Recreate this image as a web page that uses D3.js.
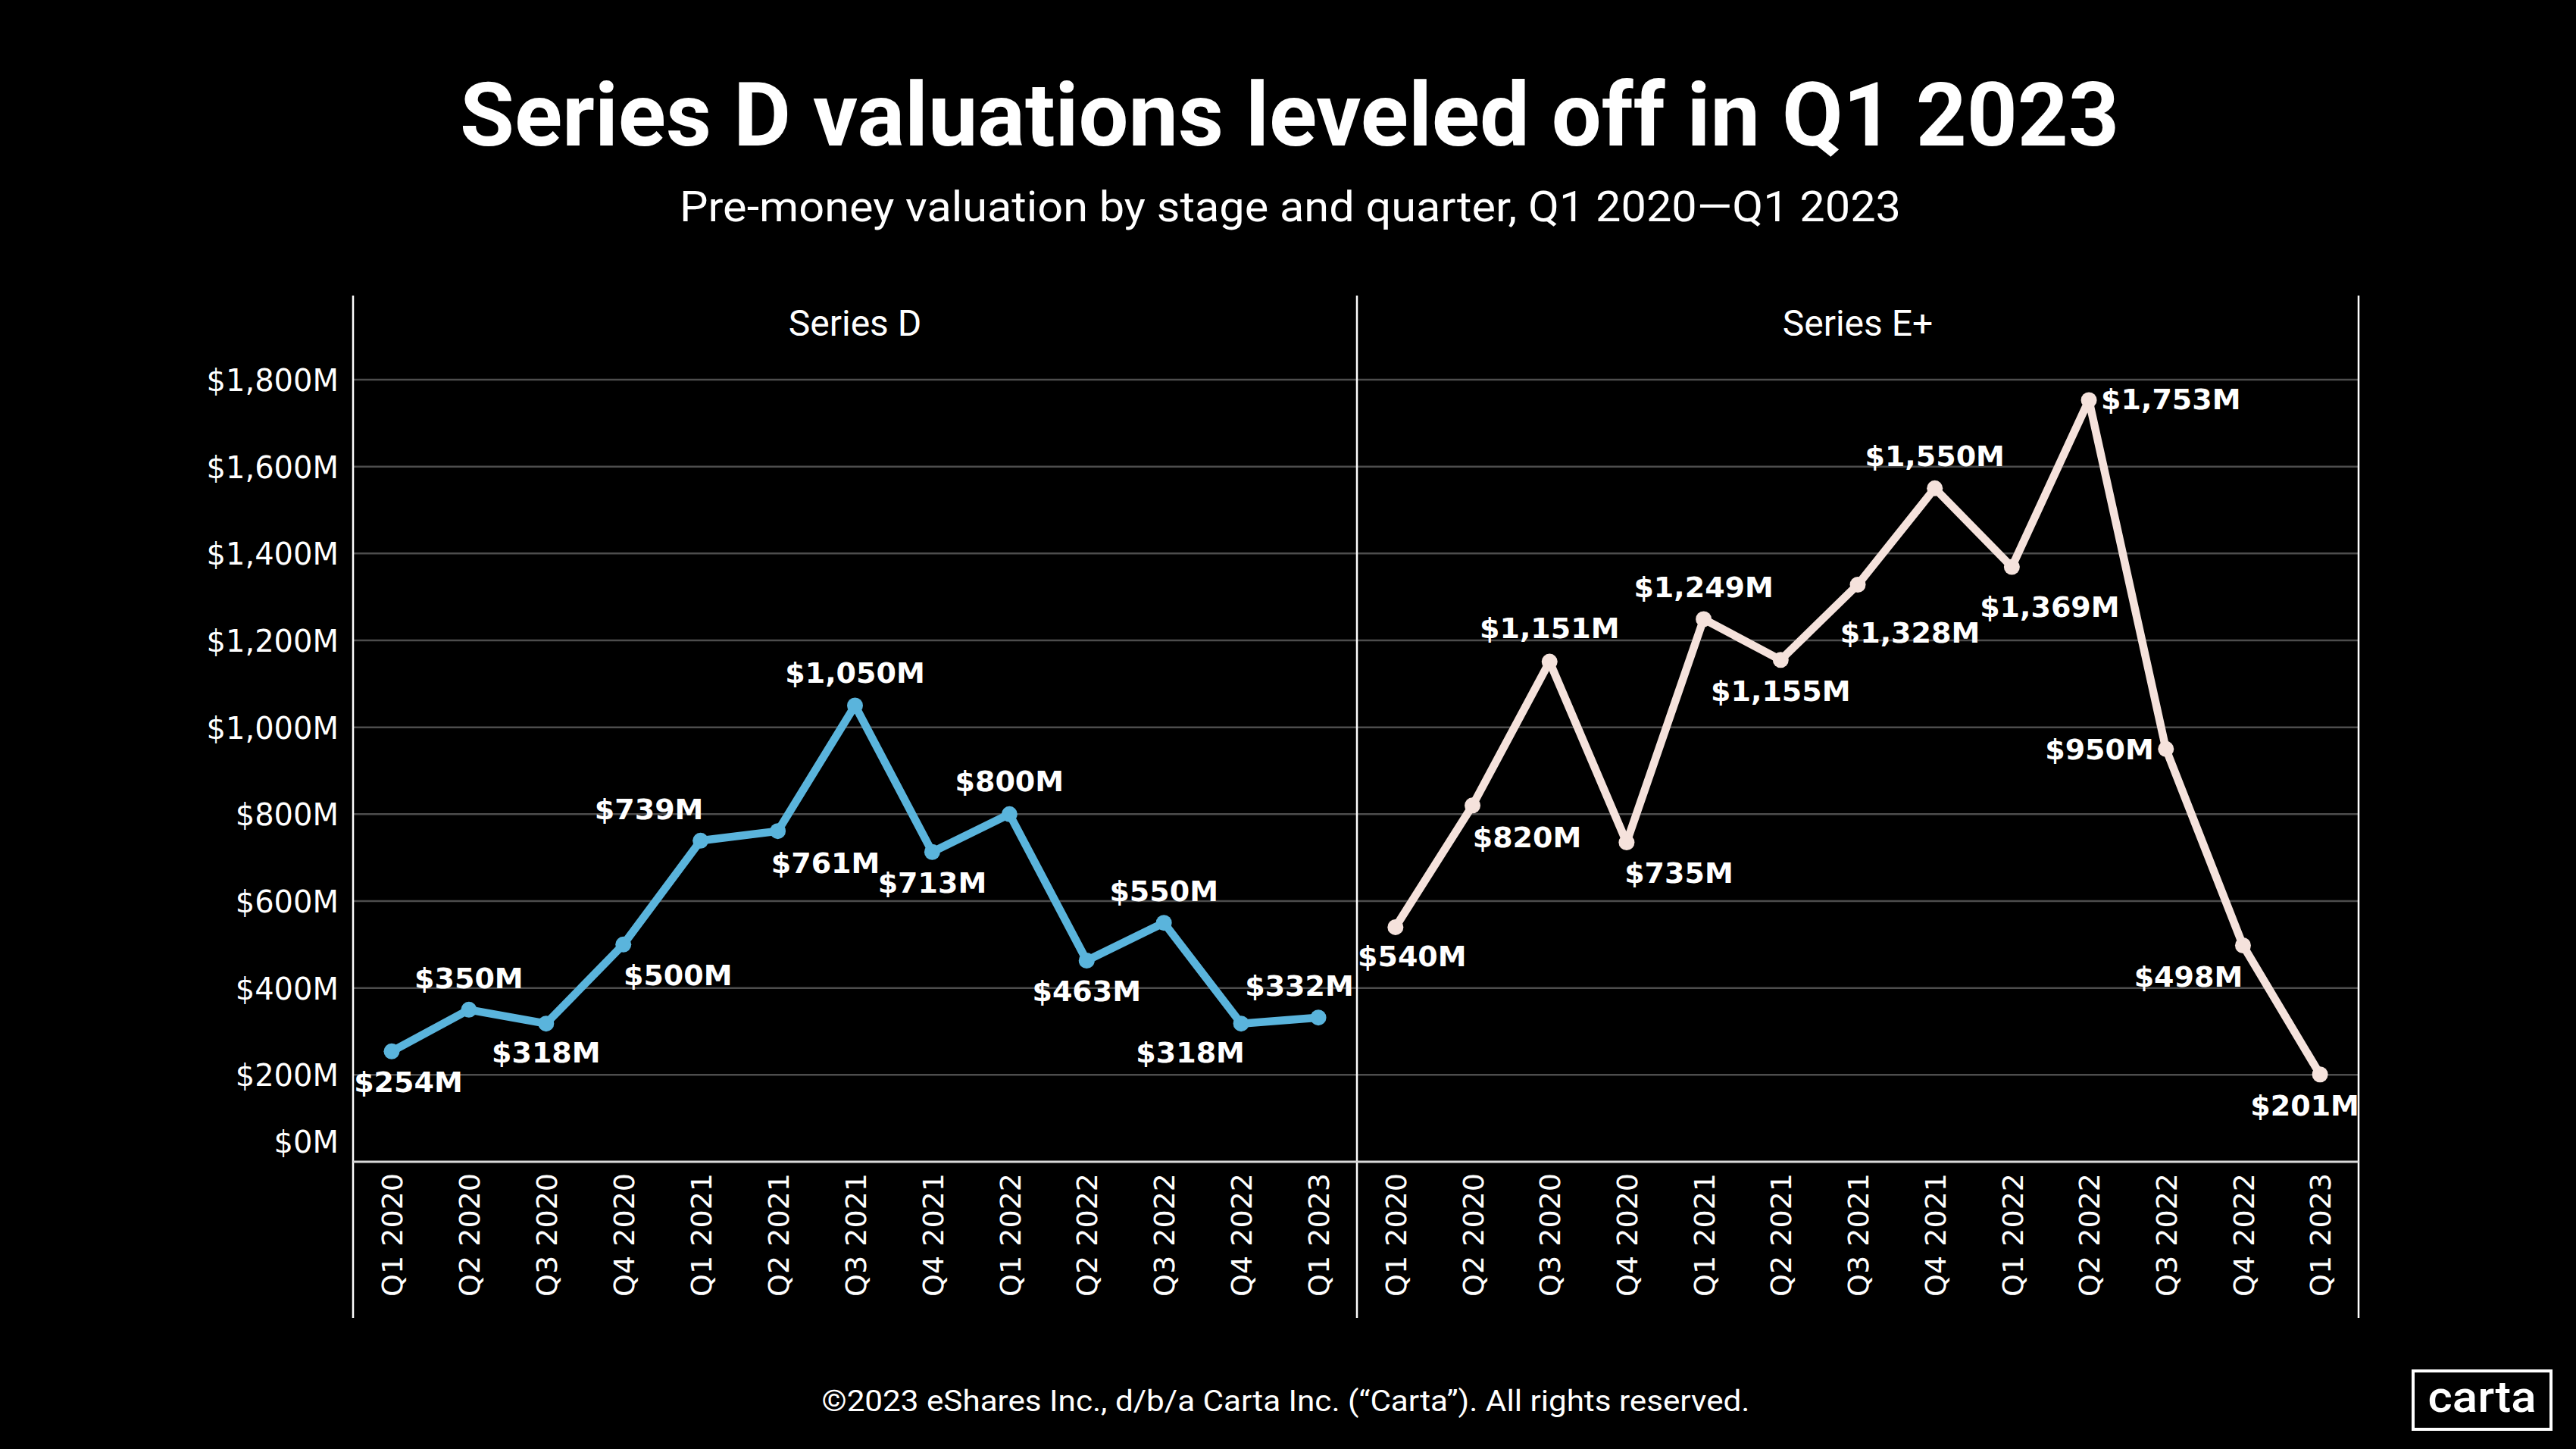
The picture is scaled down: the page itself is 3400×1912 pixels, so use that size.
<!DOCTYPE html>
<html>
<head>
<meta charset="utf-8">
<script src="https://cdn.jsdelivr.net/npm/d3@7"></script>
<style>
  html, body { margin: 0; padding: 0; background: #000; }
  svg { display: block; }
</style>
</head>
<body>
<script>
// ---------- data ----------
const quarters = ["Q1 2020","Q2 2020","Q3 2020","Q4 2020","Q1 2021","Q2 2021","Q3 2021","Q4 2021","Q1 2022","Q2 2022","Q3 2022","Q4 2022","Q1 2023"];
const panelNames = ["Series D", "Series E+"];
const seriesD = [254, 350, 318, 500, 739, 761, 1050, 713, 800, 463, 550, 318, 332];
const seriesE = [540, 820, 1151, 735, 1249, 1155, 1328, 1550, 1369, 1753, 950, 498, 201];
const yTicks = [0, 200, 400, 600, 800, 1000, 1200, 1400, 1600, 1800];

// label placement (offset from point, text anchor)
const labelPlaceD = [[22,40,"middle"],[0,-42,"middle"],[0,38,"middle"],[72,40,"middle"],[-68,-42,"middle"],[63,42,"middle"],[0,-44,"middle"],[0,40,"middle"],[0,-44,"middle"],[0,40,"middle"],[0,-42,"middle"],[-67,38,"middle"],[-25,-42,"middle"]];
const labelPlaceE = [[22,38,"middle"],[72,41,"middle"],[0,-45,"middle"],[69,40,"middle"],[0,-43,"middle"],[0,41,"middle"],[69,63,"middle"],[0,-43,"middle"],[50,52,"middle"],[16,-2,"start"],[-16,0,"end"],[-72,41,"middle"],[-20,41,"middle"]];

const W = 3400, H = 1912;
const svg = d3.select("body").append("svg").attr("width", W).attr("height", H);
svg.append("rect").attr("width", W).attr("height", H).attr("fill", "#000");

const headFont = "Roboto, 'Noto Sans', sans-serif";
const axisFont = "'DejaVu Sans', sans-serif";

// ---------- titles ----------
svg.append("text").attr("x", 1702).attr("y", 192).attr("text-anchor", "middle")
  .attr("font-family", headFont).attr("font-weight", 700).attr("font-size", 116)
  .attr("fill", "#fff").attr("textLength", 2190).attr("lengthAdjust", "spacingAndGlyphs")
  .text("Series D valuations leveled off in Q1 2023");
svg.append("text").attr("x", 1703).attr("y", 292).attr("text-anchor", "middle")
  .attr("font-family", headFont).attr("font-weight", 400).attr("font-size", 56)
  .attr("fill", "#fff").attr("textLength", 1612).attr("lengthAdjust", "spacingAndGlyphs")
  .text("Pre-money valuation by stage and quarter, Q1 2020\u2014Q1 2023");

// ---------- scales ----------
const yTop = 390, yBottomAxis = 1533, yBottom = 1739;
const y = d3.scaleLinear().domain([0, 1800]).range([1533, 501]);
const panelX = [[466, 1791], [1791, 3113]];
const series = [seriesD, seriesE];
const colors = ["#5ab4dc", "#f5e2dc"];
const places = [labelPlaceD, labelPlaceE];

// gridlines
const grid = svg.append("g");
panelX.forEach(([l, r]) => {
  grid.selectAll(null).data(yTicks.filter(d => d > 0)).enter().append("line")
    .attr("x1", l).attr("x2", r).attr("y1", d => y(d)).attr("y2", d => y(d))
    .attr("stroke", "#4d4d4d").attr("stroke-width", 2.5);
});

// y axis
const yAxis = svg.append("g").attr("transform", "translate(447,0)")
  .call(d3.axisLeft(y).tickValues(yTicks).tickSize(0).tickPadding(0)
    .tickFormat(d => "$" + d3.format(",")(d) + "M"));
yAxis.select(".domain").remove();
yAxis.selectAll("text").attr("font-family", axisFont).attr("font-size", 40)
  .attr("fill", "#fff").attr("dy", d => d === 0 ? "-0.32em" : "0.36em");

// panel frames
[panelX[0][0], panelX[0][1], panelX[1][1]].forEach(xv => {
  svg.append("line").attr("x1", xv).attr("x2", xv).attr("y1", yTop).attr("y2", yBottom)
    .attr("stroke", "#fff").attr("stroke-width", 2.5);
});
// x axis baseline
svg.append("line").attr("x1", panelX[0][0]).attr("x2", panelX[1][1])
  .attr("y1", yBottomAxis).attr("y2", yBottomAxis).attr("stroke", "#d9d9d9").attr("stroke-width", 3);

panelX.forEach(([l, r], i) => {
  const x = d3.scalePoint().domain(quarters).range([l, r]).padding(0.5);

  // header
  svg.append("text").attr("x", (l + r) / 2).attr("y", 443).attr("text-anchor", "middle")
    .attr("font-family", headFont).attr("font-size", 48).attr("fill", "#fff")
    .text(panelNames[i]);

  // x axis
  const xa = svg.append("g").attr("transform", `translate(0,${yBottomAxis})`)
    .call(d3.axisBottom(x).tickSize(0));
  xa.select(".domain").remove();
  xa.selectAll("text").attr("font-family", axisFont).attr("font-size", 38).attr("fill", "#fff")
    .attr("transform", "rotate(-90)").attr("text-anchor", "end")
    .attr("x", -15).attr("y", 0).attr("dy", "0.36em");

  const data = series[i].map((v, k) => ({ q: quarters[k], v, p: places[i][k] }));

  // line
  svg.append("path").datum(data)
    .attr("d", d3.line().x(d => x(d.q)).y(d => y(d.v)))
    .attr("fill", "none").attr("stroke", colors[i]).attr("stroke-width", 10.5)
    .attr("stroke-linejoin", "round");
  // points
  svg.selectAll(null).data(data).enter().append("circle")
    .attr("cx", d => x(d.q)).attr("cy", d => y(d.v)).attr("r", 10.5).attr("fill", colors[i]);
  // labels
  svg.selectAll(null).data(data).enter().append("text")
    .attr("x", d => x(d.q) + d.p[0]).attr("y", d => y(d.v) + d.p[1])
    .attr("dy", "0.36em").attr("text-anchor", d => d.p[2])
    .attr("font-family", axisFont).attr("font-weight", 700).attr("font-size", 38)
    .attr("fill", "#fff")
    .text(d => "$" + d3.format(",")(d.v) + "M");
});

// footer
svg.append("text").attr("x", 1697).attr("y", 1862).attr("text-anchor", "middle")
  .attr("font-family", headFont).attr("font-size", 39).attr("fill", "#fff")
  .attr("textLength", 1225).attr("lengthAdjust", "spacingAndGlyphs")
  .text("\u00A92023 eShares Inc., d/b/a Carta Inc. (\u201CCarta\u201D). All rights reserved.");

// logo
svg.append("rect").attr("x", 3185).attr("y", 1809).attr("width", 182).attr("height", 77)
  .attr("fill", "none").attr("stroke", "#fff").attr("stroke-width", 4);
svg.append("text").attr("x", 3276).attr("y", 1863).attr("text-anchor", "middle")
  .attr("font-family", headFont).attr("font-weight", 500).attr("font-size", 58).attr("fill", "#fff")
  .attr("textLength", 143).attr("lengthAdjust", "spacingAndGlyphs")
  .text("carta");
</script>
</body>
</html>
